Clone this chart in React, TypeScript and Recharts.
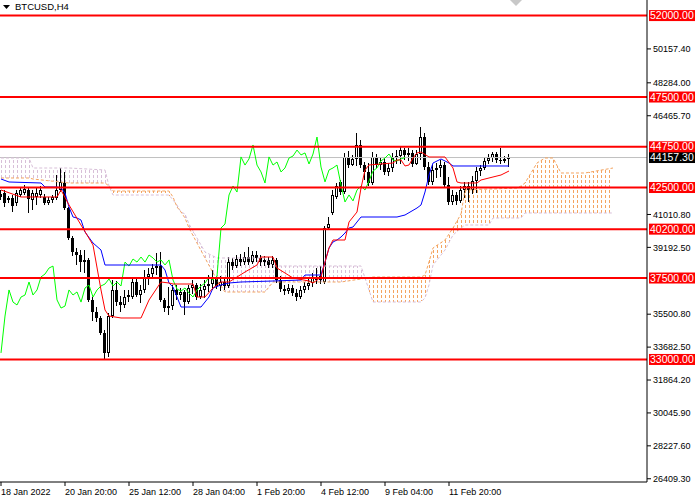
import React from 'react';
import { ComposedChart, Bar, Line, Area, XAxis, YAxis, ReferenceLine } from 'recharts';

// H4 candles, one per bar index (0 = 18 Jan 2022 00:00)
const opens = [
  42140, 42200, 41810, 41920, 41640, 42090, 42200, 42360, 41810, 41980,
  42090, 41980, 41640, 41810, 41920, 42360, 42750, 41370, 39710, 38940,
  38770, 38380, 38500, 36285, 35620, 35290, 34460, 33360, 35400, 36840,
  36170, 36010, 36450, 36450, 37280, 36560, 36840, 37560, 37720, 38050,
  38160, 36290, 35840, 35950, 36840, 36560, 36730, 36170, 36950, 37110,
  36450, 36840, 37060, 37170, 37450, 37060, 37280, 37060, 38380, 38160,
  38550, 38380, 38660, 38380, 38770, 38610, 38380, 38500, 38220, 38500,
  37390, 36890, 36780, 36950, 36670, 36450, 36840, 37060, 37220, 37560,
  37390, 37280, 40263, 41092, 41976, 42810, 42250, 44190, 43740, 44080,
  44850, 43740, 43360, 42750, 44190, 43740, 43910, 43360, 43580, 44130,
  44240, 44570, 44300, 44410, 43800, 44350, 45290, 43630, 42810, 43470,
  43580, 43740, 42640, 41700, 42090, 41760, 42360, 42580, 42360, 42860,
  43410, 43580, 43970, 44130, 44350, 44020, 43970, 44080,
];
const highs = [
  42360, 42360, 42030, 42090, 42360, 42470, 42640, 42530, 42360, 42470,
  42580, 42140, 41980, 42090, 43190, 43580, 43360, 41420, 39820, 39160,
  39050, 39050, 38610, 36450, 35900, 35400, 34630, 35570, 37390, 37340,
  36510, 36840, 36840, 37500, 37500, 37110, 37940, 38050, 38270, 38880,
  38940, 36400, 37000, 37110, 37110, 36950, 36840, 37110, 37390, 37220,
  37170, 37390, 37670, 37940, 37560, 37610, 37500, 38660, 38610, 38770,
  38830, 38940, 39210, 38990, 38990, 38770, 38720, 38660, 38720, 38610,
  37610, 37110, 37170, 37110, 36890, 37060, 37280, 37450, 37780, 38050,
  38160, 40374, 40871, 42363, 42750, 42920, 44410, 44520, 44300, 45510,
  45130, 43910, 43850, 44460, 44350, 44130, 44130, 43850, 44410, 44570,
  44790, 44680, 44680, 44570, 44570, 45840, 45510, 43910, 43740, 43850,
  44020, 43910, 43080, 42360, 42250, 42580, 42810, 42810, 43140, 43630,
  43740, 44130, 44350, 44460, 44460, 44680, 44240, 44350,
];
const lows = [
  41810, 41420, 41640, 41150, 41480, 41980, 42090, 41090, 41260, 41530,
  41920, 41530, 41530, 41640, 41810, 42250, 41260, 39600, 38720, 38220,
  37830, 37780, 36175, 35125, 35070, 34350, 32970, 33140, 35290, 35950,
  35620, 35840, 36170, 36340, 36450, 36120, 36670, 37110, 37500, 37670,
  36170, 35620, 35460, 35730, 36290, 36290, 35460, 36060, 36620, 36290,
  36340, 36400, 36730, 36840, 36890, 36780, 36840, 36950, 37940, 38050,
  38160, 38220, 38220, 38270, 38380, 38160, 38160, 38050, 38050, 37220,
  36730, 36560, 36620, 36510, 36230, 36340, 36670, 36840, 37000, 37170,
  37170, 37169, 40153, 40981, 41865, 42090, 42140, 43580, 43690, 43690,
  43580, 42920, 42580, 42640, 43580, 43470, 43190, 43140, 43360, 43800,
  43800, 44020, 43970, 43630, 43740, 44020, 43470, 42640, 42640, 43030,
  43080, 42470, 41530, 41530, 41530, 41640, 41920, 41700, 42140, 42200,
  43140, 43470, 43800, 43910, 43850, 43800, 43850, 43630,
];
const closes = [
  41980, 41640, 41920, 41480, 42200, 42360, 42420, 41870, 42200, 42200,
  42360, 41640, 41810, 41980, 42360, 42800, 41370, 39710, 38940, 38770,
  38380, 38500, 36285, 35620, 35290, 34460, 33360, 35400, 36840, 36170,
  36010, 36450, 36560, 37280, 36560, 36840, 37560, 37720, 38050, 38160,
  36290, 35840, 35950, 36840, 36560, 36730, 36170, 36950, 37110, 36450,
  36840, 37060, 37170, 37450, 37060, 37280, 37060, 38380, 38160, 38550,
  38380, 38660, 38380, 38770, 38610, 38380, 38500, 38220, 38500, 37390,
  36890, 36780, 36950, 36670, 36450, 36840, 37060, 37220, 37560, 37390,
  37610, 40263, 40484, 42086, 42584, 42250, 44190, 43740, 44080, 44850,
  43740, 43360, 42750, 44190, 43740, 43910, 43360, 43580, 44130, 44240,
  44570, 44300, 44410, 43800, 44350, 45290, 43630, 42810, 43470, 43580,
  43740, 42640, 41700, 42090, 41760, 42360, 42580, 42360, 42860, 43410,
  43580, 43970, 44130, 44350, 44020, 43970, 44080, 44157.3,
];

// Tenkan-sen (red) read at its corners
const tenkanIdx = [0, 5, 14, 15, 17, 20, 23, 25, 26, 27, 30, 35, 37, 40, 42, 43, 48, 49, 51, 53, 55, 57, 61, 64, 65, 68, 69, 71, 73, 77, 78, 80, 81, 82, 83, 86, 87, 88, 89, 90, 91, 92, 98, 99, 100, 101, 102, 103, 104, 105, 107, 111, 113, 114, 115, 119, 120, 123, 125, 127];
const tenkanVals = [42363, 41976, 41976, 42363, 41534, 40429, 39324, 36838, 35733, 35401, 35291, 35291, 36285, 37280, 37224, 37169, 37169, 36451, 36451, 36948, 37280, 37280, 37832, 38219, 38661, 38661, 38053, 37777, 37501, 37335, 37224, 37556, 38385, 39158, 39600, 39600, 40595, 40871, 41147, 42473, 43468, 43744, 43854, 44020, 44020, 43689, 43744, 44131, 44407, 44462, 44186, 44186, 43578, 42805, 42750, 42750, 42915, 43081, 43191, 43412];

// Kijun-sen (blue)
const kijunIdx = [0, 2, 10, 11, 14, 15, 16, 17, 18, 19, 20, 21, 23, 25, 26, 40, 41, 42, 43, 44, 45, 50, 52, 53, 55, 57, 60, 68, 75, 76, 80, 81, 82, 83, 84, 85, 86, 87, 88, 89, 90, 99, 101, 104, 105, 106, 107, 108, 110, 112, 113, 127];
const kijunVals = [42970, 42805, 42750, 42528, 42528, 42473, 42197, 41423, 40871, 40816, 40705, 40042, 39434, 39048, 38219, 38219, 37943, 37224, 37000, 36451, 35898, 35898, 36451, 36948, 37114, 37224, 37280, 37335, 37390, 37666, 37666, 38385, 39158, 39490, 39600, 39766, 39987, 40263, 40318, 40595, 40871, 40871, 40981, 41368, 41534, 42252, 43191, 43854, 44075, 43854, 43689, 43689];

// Senkou spans A (sandy brown) and B (thistle), shifted 26 bars forward
const cloudIdx = [0, 7, 8, 17, 26, 27, 28, 42, 43, 44, 45, 46, 47, 49, 51, 54, 56, 66, 68, 85, 90, 91, 93, 105, 106, 107, 108, 111, 113, 115, 116, 122, 123, 129, 130, 131, 134, 136, 138, 140, 146, 153];
const spanA = [43026, 43026, 42970, 42750, 42750, 42584, 42307, 42307, 41976, 41423, 41147, 40816, 40263, 39434, 38606, 37390, 36727, 36727, 37280, 37280, 37445, 37501, 37556, 37556, 37666, 38385, 39158, 39600, 40263, 41037, 42363, 42418, 42418, 42473, 42584, 42750, 43854, 44131, 44131, 43302, 43302, 43578];
const spanB = [44131, 44131, 43578, 43578, 43468, 42584, 42086, 42086, 41810, 41534, 41147, 41037, 40484, 39711, 38937, 38606, 38606, 38606, 38164, 38164, 38164, 37501, 36175, 36175, 36396, 37114, 38219, 39048, 39876, 40263, 40429, 40429, 40816, 40816, 40816, 41092, 41092, 41092, 41092, 41092, 41092, 41092];

const CHIKOU_SHIFT = 26;
const levels = [52000, 47500, 44750, 42500, 40200, 37500, 33000];
const bidPrice = 44157.3;
const priceTicks = [50157.4, 48284.0, 46465.7, 41010.8, 39192.5, 35500.8, 33682.5, 31864.2, 30045.9, 28227.6, 26409.3];
const timeTicks = [0, 16, 32, 48, 64, 80, 96, 112];
const timeLabels = ['18 Jan 2022', '20 Jan 20:00', '25 Jan 12:00', '28 Jan 04:00', '1 Feb 20:00', '4 Feb 12:00', '9 Feb 04:00', '11 Feb 20:00'];

const FONT = '"Liberation Sans", Arial, sans-serif';
const SAND = '#f4a460';
const THISTLE = '#d8bfd8';

const candles = opens.map((o, i) => ({
  i,
  o,
  h: highs[i],
  l: lows[i],
  c: closes[i],
  range: [lows[i], highs[i]],
}));
const tenkanData = tenkanIdx.map((i, k) => ({ i, v: tenkanVals[k] }));
const kijunData = kijunIdx.map((i, k) => ({ i, v: kijunVals[k] }));
const chikouData = closes.slice(CHIKOU_SHIFT).map((v, k) => ({ i: k, v }));
const cloudData = cloudIdx.map((i, k) => ({
  i,
  a: spanA[k],
  b: spanB[k],
  bull: spanA[k] >= spanB[k] ? [spanB[k], spanA[k]] : null,
  bear: spanB[k] >= spanA[k] ? [spanA[k], spanB[k]] : null,
}));

function Candle(props: any) {
  const { x, y, width, height, payload } = props;
  if (x == null || y == null) return null;
  const top = Math.min(y, y + height);
  const h = Math.abs(height);
  const span = payload.h - payload.l || 1;
  const py = (p: number) => top + ((payload.h - p) / span) * h;
  const cx = Math.floor(x + width / 2);
  const bull = payload.c >= payload.o;
  const bTop = Math.round(py(Math.max(payload.o, payload.c)));
  const bBot = Math.round(py(Math.min(payload.o, payload.c)));
  return (
    <g shapeRendering="crispEdges">
      <line x1={cx + 0.5} x2={cx + 0.5} y1={Math.round(top)} y2={Math.round(top + h)} stroke="#000" strokeWidth={1} />
      {bull && bBot - bTop >= 2 ? (
        <rect x={cx - 0.5} y={bTop + 0.5} width={2} height={bBot - bTop - 1} fill="#fff" stroke="#000" strokeWidth={1} />
      ) : (
        <rect x={cx - 1} y={bTop} width={3} height={Math.max(bBot - bTop, 1)} fill="#000" />
      )}
    </g>
  );
}

function XTick(props: any) {
  const { x, y, payload } = props;
  const label = timeLabels[timeTicks.indexOf(payload.value)];
  return (
    <text x={x} y={y + 7} textAnchor="start" fontSize={9} fontFamily={FONT} fill="#000">
      {label}
    </text>
  );
}

function YTick(props: any) {
  const { x, y, payload } = props;
  return (
    <text x={x} y={y + 3.2} textAnchor="start" fontSize={9} fontFamily={FONT} fill="#000">
      {Number(payload.value).toFixed(2)}
    </text>
  );
}

const levelLabel = (value: number, bg: string, fg: string) => (props: any) => {
  const { viewBox } = props;
  if (!viewBox) return null;
  const right = viewBox.x + viewBox.width;
  return (
    <g>
      <rect x={right + 2} y={viewBox.y - 5.5} width={46} height={11} fill={bg} />
      <text x={right + 3} y={viewBox.y + 3.6} fontSize={10.5} fontFamily={FONT} fill={fg}>
        {value.toFixed(2)}
      </text>
    </g>
  );
};

export default function App() {
  return (
    <div style={{ position: 'absolute', left: 0, top: 0, width: 700, height: 500, background: '#fff' }}>
      <svg width={0} height={0} style={{ position: 'absolute' }}>
        <defs>
          <pattern id="kumoUp" patternUnits="userSpaceOnUse" x={0} y={0} width={4} height={5}>
            <rect x={1} y={0} width={1} height={3} fill={SAND} shapeRendering="crispEdges" />
          </pattern>
          <pattern id="kumoDown" patternUnits="userSpaceOnUse" x={0} y={0} width={4} height={5}>
            <rect x={1} y={0} width={1} height={3} fill={THISTLE} shapeRendering="crispEdges" />
          </pattern>
        </defs>
      </svg>
      <ComposedChart width={700} height={500} data={candles} margin={{ top: 0, right: 0, bottom: 0, left: 0 }}>
        <XAxis
          type="number"
          dataKey="i"
          domain={[-0.25, 161.5]}
          allowDataOverflow
          ticks={timeTicks}
          interval={0}
          tick={<XTick />}
          tickSize={4}
          height={18}
          axisLine={{ stroke: '#000' }}
          tickLine={{ stroke: '#000' }}
        />
        <YAxis
          orientation="right"
          type="number"
          domain={[26230, 52860]}
          allowDataOverflow
          ticks={priceTicks}
          interval={0}
          width={53}
          tickSize={4}
          tick={<YTick />}
          axisLine={{ stroke: '#000' }}
          tickLine={{ stroke: '#000' }}
        />
        <ReferenceLine y={bidPrice} stroke="#c0c0c0" strokeWidth={1} label={levelLabel(bidPrice, '#000', '#fff')} />
        <Area data={cloudData} dataKey="bear" type="linear" stroke="none" fill="url(#kumoDown)" fillOpacity={1} shapeRendering="crispEdges" dot={false} activeDot={false} isAnimationActive={false} />
        <Area data={cloudData} dataKey="bull" type="linear" stroke="none" fill="url(#kumoUp)" fillOpacity={1} shapeRendering="crispEdges" dot={false} activeDot={false} isAnimationActive={false} />
        <Line data={cloudData} dataKey="b" type="linear" stroke={THISTLE} strokeDasharray="3 2" dot={false} activeDot={false} isAnimationActive={false} />
        <Line data={cloudData} dataKey="a" type="linear" stroke={SAND} strokeDasharray="3 2" dot={false} activeDot={false} isAnimationActive={false} />
        <Bar dataKey="range" barSize={3} shape={<Candle />} activeBar={false} isAnimationActive={false} />
        <Line data={chikouData} dataKey="v" type="linear" stroke="#00ff00" strokeWidth={1} dot={false} activeDot={false} isAnimationActive={false} />
        <Line data={kijunData} dataKey="v" type="linear" stroke="#0000ff" strokeWidth={1} dot={false} activeDot={false} isAnimationActive={false} />
        <Line data={tenkanData} dataKey="v" type="linear" stroke="#ff0000" strokeWidth={1} dot={false} activeDot={false} isAnimationActive={false} />
        {levels.map((v) => (
          <ReferenceLine key={v} y={v} stroke="#ff0000" strokeWidth={2} label={levelLabel(v, '#ff0000', '#fff')} />
        ))}
      </ComposedChart>
      <div style={{ position: 'absolute', left: 3, top: 1, display: 'flex', alignItems: 'center', fontFamily: FONT, fontSize: 9.5, color: '#000' }}>
        <svg width={7} height={4} style={{ marginRight: 5 }}>
          <polygon points="0,0 7,0 3.5,4" fill="#000" />
        </svg>
        <span>BTCUSD,H4</span>
      </div>
      <svg width={12} height={7} style={{ position: 'absolute', left: 510, top: 0 }}>
        <polygon points="0,0 12,0 6,6" fill="#c8c8c8" />
      </svg>
    </div>
  );
}
